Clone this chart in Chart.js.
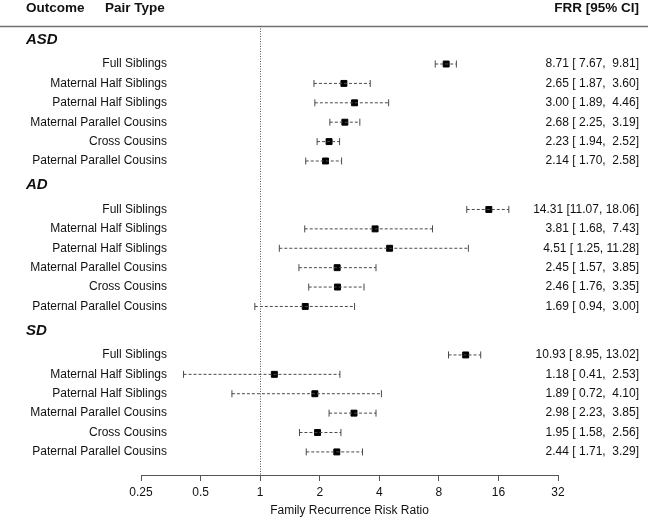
<!DOCTYPE html>
<html>
<head>
<meta charset="utf-8">
<script src="https://cdn.jsdelivr.net/npm/chart.js@4.4.1/dist/chart.umd.min.js"></script>
<style>
  html, body { margin: 0; padding: 0; background: #fff; }
  #wrap { width: 648px; height: 521px; position: relative; }
</style>
</head>
<body>
<div id="wrap"><canvas id="forest"></canvas></div>
<script>
const outcomes = ['ASD', 'AD', 'SD'];
const pairTypes = ['Full Siblings', 'Maternal Half Siblings', 'Paternal Half Siblings',
                   'Maternal Parallel Cousins', 'Cross Cousins', 'Paternal Parallel Cousins'];

const asdEst = [8.71, 2.65, 3.00, 2.68, 2.23, 2.14];
const asdLo  = [7.67, 1.87, 1.89, 2.25, 1.94, 1.70];
const asdHi  = [9.81, 3.60, 4.46, 3.19, 2.52, 2.58];

const adEst = [14.31, 3.81, 4.51, 2.45, 2.46, 1.69];
const adLo  = [11.07, 1.68, 1.25, 1.57, 1.76, 0.94];
const adHi  = [18.06, 7.43, 11.28, 3.85, 3.35, 3.00];

const sdEst = [10.93, 1.18, 1.89, 2.98, 1.95, 2.44];
const sdLo  = [8.95, 0.41, 0.72, 2.23, 1.58, 1.71];
const sdHi  = [13.02, 2.53, 4.10, 3.85, 2.56, 3.29];

const axisTicks = [0.25, 0.5, 1, 2, 4, 8, 16, 32];
const refValue = 1;

// first row of each outcome block (row units, top = 0)
const blockStart = [0, 7.5, 15];
const blocks = [
  { est: asdEst, lo: asdLo, hi: asdHi },
  { est: adEst, lo: adLo, hi: adHi },
  { est: sdEst, lo: sdLo, hi: sdHi }
];

const pad5 = (v) => v.toFixed(2).padStart(5, ' ');

const rows = [];
blocks.forEach((b, k) => {
  pairTypes.forEach((p, i) => {
    rows.push({ y: blockStart[k] + i, label: p, est: b.est[i], lo: b.lo[i], hi: b.hi[i] });
  });
});

const datasets = [];
rows.forEach(r => {
  datasets.push({
    type: 'scatter',
    showLine: true,
    data: [{ x: r.lo, y: r.y }, { x: r.hi, y: r.y }],
    borderColor: '#4a4a4a',
    borderWidth: 1,
    borderDash: [3, 2],
    pointStyle: 'line',
    rotation: 90,
    pointRadius: 3.5,
    pointBorderColor: '#4a4a4a',
    pointBorderWidth: 1
  });
});
datasets.push({
  type: 'scatter',
  data: rows.map(r => ({ x: r.est, y: r.y })),
  pointStyle: 'rect',
  pointRadius: 4.2,
  backgroundColor: '#000',
  borderColor: '#000',
  borderWidth: 1
});

const textPlugin = {
  id: 'forestText',
  afterDraw(chart) {
    const { ctx, chartArea } = chart;
    const xs = chart.scales.x, ys = chart.scales.y;
    ctx.save();
    ctx.fillStyle = '#111';
    ctx.textBaseline = 'middle';

    // header
    ctx.font = 'bold 13.5px "Liberation Sans", Arial, sans-serif';
    ctx.textAlign = 'left';
    ctx.fillText('Outcome', 26, 8);
    ctx.fillText('Pair Type', 105, 8);
    ctx.textAlign = 'right';
    ctx.fillText('FRR [95% CI]', 639, 8);

    ctx.strokeStyle = '#707070';
    ctx.lineWidth = 1.5;
    ctx.beginPath();
    ctx.moveTo(0, chartArea.top + 0.5);
    ctx.lineTo(chart.width, chartArea.top + 0.5);
    ctx.stroke();

    // reference line at 1
    const rx = Math.round(xs.getPixelForValue(refValue)) + 0.5;
    ctx.strokeStyle = '#555';
    ctx.lineWidth = 1;
    ctx.setLineDash([1, 1.5]);
    ctx.beginPath();
    ctx.moveTo(rx, chartArea.top);
    ctx.lineTo(rx, chartArea.bottom);
    ctx.stroke();
    ctx.setLineDash([]);

    // outcome headings
    ctx.font = 'italic bold 15px "Liberation Sans", Arial, sans-serif';
    ctx.textAlign = 'left';
    outcomes.forEach((o, k) => {
      ctx.fillText(o, 26, ys.getPixelForValue(blockStart[k] - 1.25));
    });

    // pair labels and estimates
    ctx.font = '12px "Liberation Sans", Arial, sans-serif';
    rows.forEach(r => {
      const py = ys.getPixelForValue(r.y);
      ctx.textAlign = 'right';
      ctx.fillText(r.label, 167, py);
      ctx.fillText(r.est.toFixed(2) + ' [' + pad5(r.lo) + ', ' + pad5(r.hi) + ']', 639, py);
    });
    ctx.restore();
  }
};

new Chart(document.getElementById('forest'), {
  type: 'scatter',
  data: { datasets: datasets },
  plugins: [textPlugin],
  options: {
    responsive: true,
    maintainAspectRatio: false,
    animation: false,
    layout: { padding: { left: 141, right: 90, top: 26, bottom: 0 } },
    plugins: {
      legend: { display: false },
      tooltip: { enabled: false }
    },
    scales: {
      x: {
        type: 'logarithmic',
        position: 'bottom',
        min: 0.25,
        max: 32,
        afterBuildTicks: (scale) => { scale.ticks = axisTicks.map(v => ({ value: v })); },
        afterFit: (scale) => { scale.height = 46; },
        border: { display: true, color: '#555', width: 1 },
        grid: { drawOnChartArea: false, drawTicks: true, tickLength: 6, color: '#555' },
        ticks: {
          autoSkip: false,
          maxRotation: 0,
          padding: 4,
          color: '#111',
          font: { family: '"Liberation Sans", Arial, sans-serif', size: 12 },
          callback: (v) => String(v)
        },
        title: {
          display: true,
          text: 'Family Recurrence Risk Ratio',
          color: '#111',
          font: { family: '"Liberation Sans", Arial, sans-serif', size: 12 },
          padding: { top: 2, bottom: 3 }
        }
      },
      y: {
        type: 'linear',
        display: false,
        reverse: true,
        min: -1.96,
        max: 21.19
      }
    }
  }
});
</script>
</body>
</html>
